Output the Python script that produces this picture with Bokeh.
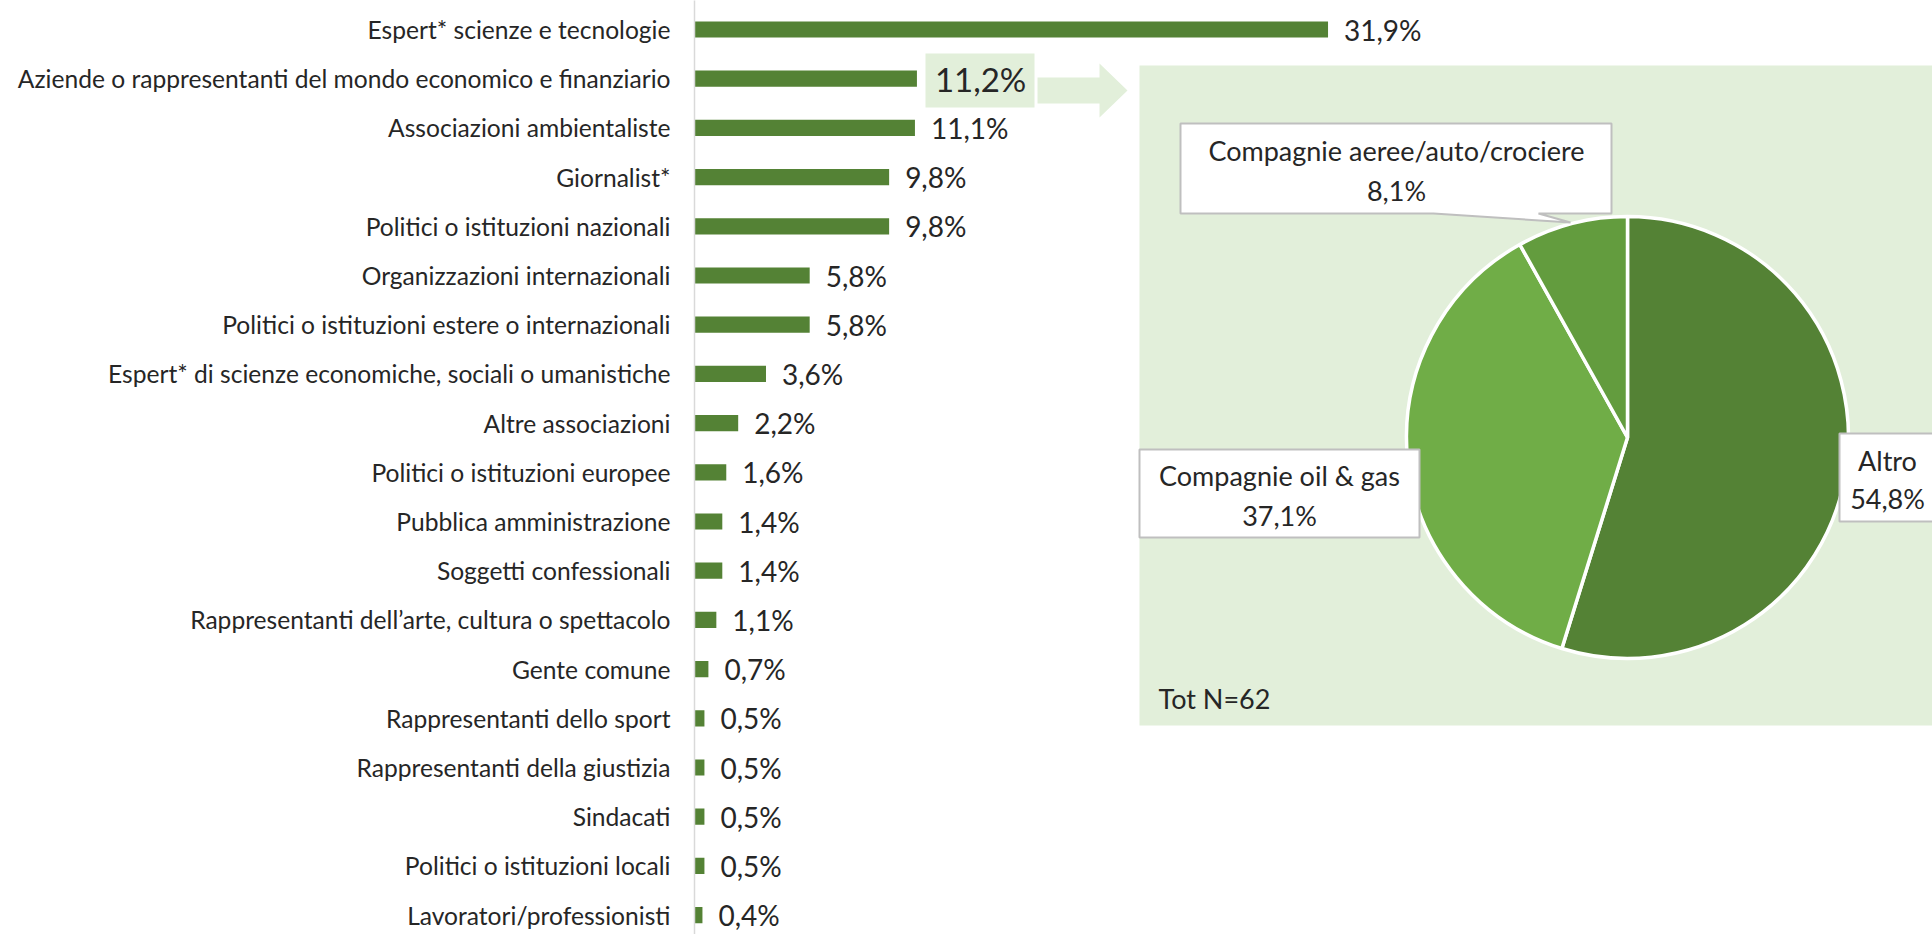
from bokeh.plotting import figure
from bokeh.models import Range1d, FixedTicker, LinearAxis
from bokeh.embed import file_html
from bokeh.resources import INLINE
from bokeh.core.properties import value
import math

# ---------------- data ----------------
categories = [
    "Espert* scienze e tecnologie",
    "Aziende o rappresentanti del mondo economico e finanziario",
    "Associazioni ambientaliste",
    "Giornalist*",
    "Politici o istituzioni nazionali",
    "Organizzazioni internazionali",
    "Politici o istituzioni estere o internazionali",
    "Espert* di scienze economiche, sociali o umanistiche",
    "Altre associazioni",
    "Politici o istituzioni europee",
    "Pubblica amministrazione",
    "Soggetti confessionali",
    "Rappresentanti dell\u2019arte, cultura o spettacolo",
    "Gente comune",
    "Rappresentanti dello sport",
    "Rappresentanti della giustizia",
    "Sindacati",
    "Politici o istituzioni locali",
    "Lavoratori/professionisti",
]
values = [31.9, 11.2, 11.1, 9.8, 9.8, 5.8, 5.8, 3.6, 2.2, 1.6, 1.4, 1.4, 1.1, 0.7, 0.5, 0.5, 0.5, 0.5, 0.4]
highlight_index = 1

pie_labels = ["Altro", "Compagnie oil & gas", "Compagnie aeree/auto/crociere"]
pie_values = [54.8, 37.1, 8.1]
pie_colors = ["#548235", "#70AD47", "#639C3E"]
total_label = "Tot N=62"

# ---------------- helpers ----------------
def fmt(v):
    return f"{v:.1f}".replace(".", ",") + "%"

FONT = "Lato"
TXT = "#262626"
BAR = "#548235"
LIGHT = "#E2EFDA"

W, H = 1932, 934
LEFT = 694
PX_PER_PCT = 19.86
SPACING = 49.2

n = len(categories)
ypos = [n - 1 - i for i in range(n)]
y_top = (n - 1) + 29.0 / SPACING
y_bot = y_top - H / SPACING

p = figure(width=W, height=H, output_backend="svg", toolbar_location=None,
           x_range=Range1d(0, (W - LEFT) / PX_PER_PCT), y_range=Range1d(y_bot, y_top),
           min_border_left=LEFT, min_border_right=0, min_border_top=0, min_border_bottom=0,
           x_axis_location=None, y_axis_location=None)
p.outline_line_color = None
p.grid.visible = False
p.background_fill_color = "white"
p.border_fill_color = "white"

# reference-pixel ranges for annotations in the panel (x: page px, y flipped)
p.extra_x_ranges = {"rx": Range1d(LEFT, W)}
p.extra_y_ranges = {"ry": Range1d(0, H)}
def Y(y):
    return H - y

# category axis
yaxis = LinearAxis(ticker=FixedTicker(ticks=ypos),
                   major_label_overrides={yp: c for yp, c in zip(ypos, categories)})
yaxis.axis_line_color = "#D9D9D9"
yaxis.axis_line_width = 1.5
yaxis.major_tick_line_color = None
yaxis.minor_tick_line_color = None
yaxis.major_tick_out = 0
yaxis.major_tick_in = 0
yaxis.major_label_standoff = 24
yaxis.major_label_text_font = FONT
yaxis.major_label_text_font_size = "24.6px"
yaxis.major_label_text_color = TXT
p.add_layout(yaxis, "left")

# panel background, arrow, highlight box
p.quad(left=[1139], right=[1940], bottom=[Y(725)], top=[Y(65)], fill_color=LIGHT,
       line_color=None, x_range_name="rx", y_range_name="ry")
arrow_x = [1037, 1099, 1099, 1127, 1099, 1099, 1037]
arrow_y = [Y(77), Y(77), Y(63), Y(90), Y(117), Y(103), Y(103)]
p.patch(arrow_x, arrow_y, fill_color=LIGHT, line_color=None, x_range_name="rx", y_range_name="ry")
p.quad(left=[925], right=[1034], bottom=[Y(107)], top=[Y(53)], fill_color=LIGHT,
       line_color=None, x_range_name="rx", y_range_name="ry")

# bars
p.hbar(y=ypos, left=0, right=values, height=0.33, fill_color=BAR, line_color=None)

# value labels
norm = [i for i in range(n) if i != highlight_index]
p.text(x=[values[i] for i in norm], y=[ypos[i] for i in norm], text=[fmt(values[i]) for i in norm],
       x_offset=16, text_baseline="middle", text_align="left", text_font=value(FONT),
       text_font_size="28px", text_color=TXT)
p.text(x=[values[highlight_index]], y=[ypos[highlight_index]], text=[fmt(values[highlight_index])],
       x_offset=18, text_baseline="middle", text_align="left", text_font=value(FONT),
       text_font_size="33px", text_color=TXT)

# pie
cx, cy, R = 1627, Y(437), 221
tot = sum(pie_values)
starts, ends = [], []
c = 0.0
for v in pie_values:
    c0, c1 = c / tot, (c + v) / tot
    starts.append(math.pi / 2 - 2 * math.pi * c1)
    ends.append(math.pi / 2 - 2 * math.pi * c0)
    c += v
p.wedge(x=[cx] * 3, y=[cy] * 3, radius=R, radius_units="screen", start_angle=starts, end_angle=ends,
        direction="anticlock", fill_color=pie_colors, line_color="white", line_width=3.5,
        x_range_name="rx", y_range_name="ry")

# label boxes
BOXLINE = "#BFBFBF"
bx = [1180, 1611, 1611, 1538, 1570, 1433, 1180]
by = [Y(123), Y(123), Y(213), Y(213), Y(222), Y(213), Y(213)]
p.patch(bx, by, fill_color="white", line_color=BOXLINE, line_width=2, x_range_name="rx", y_range_name="ry")
p.quad(left=[1139], right=[1419], bottom=[Y(537)], top=[Y(449)], fill_color="white",
       line_color=BOXLINE, line_width=2, x_range_name="rx", y_range_name="ry")
p.quad(left=[1839], right=[1960], bottom=[Y(521)], top=[Y(433)], fill_color="white",
       line_color=BOXLINE, line_width=2, x_range_name="rx", y_range_name="ry")

lab_x = [1887, 1279, 1396]
lab_y1 = [Y(460), Y(475), Y(150)]
lab_y2 = [Y(498), Y(515), Y(190)]
p.text(x=lab_x, y=lab_y1, text=pie_labels, text_align="center", text_baseline="middle",
       text_font=value(FONT), text_font_size="27px", text_color=TXT, x_range_name="rx", y_range_name="ry")
p.text(x=lab_x, y=lab_y2, text=[fmt(v) for v in pie_values], text_align="center", text_baseline="middle",
       text_font=value(FONT), text_font_size="27px", text_color=TXT, x_range_name="rx", y_range_name="ry")

p.text(x=[1158], y=[Y(698)], text=[total_label], text_align="left", text_baseline="middle",
       text_font=value(FONT), text_font_size="27px", text_color=TXT, x_range_name="rx", y_range_name="ry")

open("out.html", "w").write(file_html(p, INLINE))
